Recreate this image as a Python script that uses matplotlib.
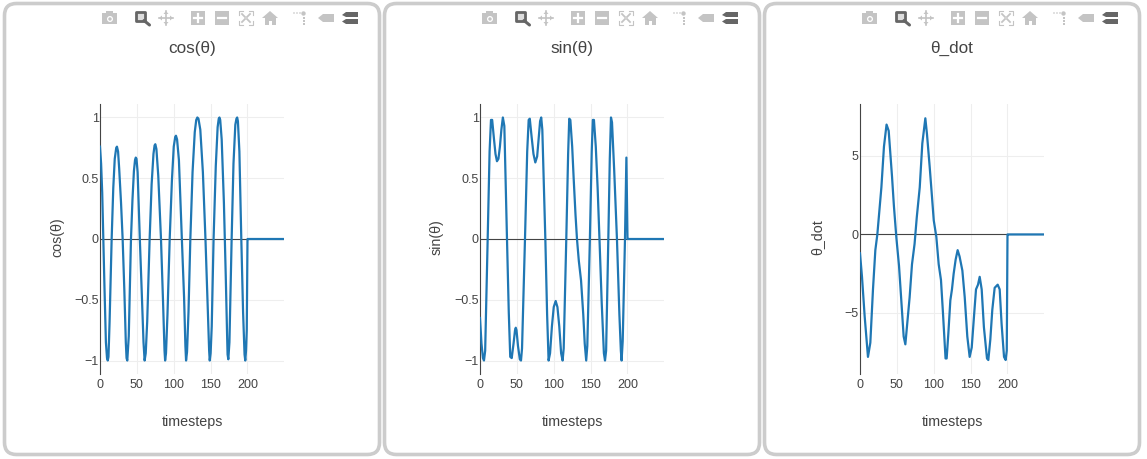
import matplotlib
matplotlib.use("Agg")
import matplotlib.pyplot as plt
from matplotlib.patches import FancyBboxPatch, Rectangle, Circle, Polygon

plt.rcParams['font.family'] = ['Liberation Sans', 'DejaVu Sans']

W, H = 1147, 459
TICKS_X = [0, 50, 100, 150, 200]

cos_x = [0, 1.5, 3, 4.5, 6, 8, 9.5, 10.5, 11.5, 13, 15.8, 18, 20, 22, 23, 24.5, 26, 28.5, 30.7, 33, 35, 36, 37, 39, 42,
         44, 46, 47.5, 48.5, 49.5, 51, 54, 56.5, 59, 60.5, 62, 64, 67.3, 70, 72.5, 74, 75, 76.5, 79, 82.7, 85.5, 87.5,
         88.3, 89.5, 91.5, 94.5, 97.5, 100, 102, 103, 104.5, 107, 111, 114, 115.8, 116.7, 118, 120, 122.5, 125.5, 128.5,
         130.5, 132, 133.5, 136, 139.5, 143, 146, 148, 148.8, 150, 151.5, 154, 157, 159.5, 161, 162, 163, 165, 168, 170.5,
         172.3, 173, 174, 175.5, 178.5, 181, 183.5, 185, 186, 187, 189, 191.6, 194, 196, 197, 198, 199, 200, 201, 225, 249.5]
cos_y = [0.76, 0.62, 0.38, 0.0, -0.38, -0.85, -0.98, -1.0, -0.97, -0.68, 0.0, 0.42, 0.66, 0.75, 0.76, 0.72, 0.58, 0.3, 0.0,
         -0.42, -0.85, -0.98, -1.0, -0.8, 0.0, 0.32, 0.56, 0.65, 0.67, 0.66, 0.55, 0.0, -0.42, -0.85, -1.0, -0.94, -0.68, 0.0,
         0.45, 0.7, 0.77, 0.78, 0.74, 0.52, 0.0, -0.52, -0.92, -1.0, -0.94, -0.62, 0.0, 0.48, 0.76, 0.84, 0.85, 0.82, 0.65, 0.0,
         -0.48, -0.88, -1.0, -0.93, -0.6, 0.0, 0.55, 0.88, 0.98, 1.0, 0.99, 0.9, 0.55, 0.0, -0.55, -0.92, -1.0, -0.94, -0.72, 0.0,
         0.6, 0.92, 0.99, 1.0, 0.98, 0.82, 0.3, -0.3, -0.78, -0.95, -0.99, -0.85, 0.0, 0.62, 0.94, 0.99, 1.0, 0.97, 0.72, 0.0,
         -0.6, -0.95, -1.0, -0.92, -0.75, 0.0, 0.0, 0.0, 0.0]

sin_x = [0, 2, 4, 5.4, 7, 10.4, 13, 14.9, 16.5, 19, 21, 23, 25, 27, 29, 31, 33, 36.6, 39, 41, 43, 45.5, 47.5, 48.5, 49.5, 51.5,
         54, 55.6, 57, 61, 64, 66, 67.5, 70, 72.5, 75, 77.5, 80, 81.5, 83, 84.5, 88.6, 91, 93, 95, 97.5, 100, 102.6, 105, 107.5,
         110, 112, 113.5, 117, 119.5, 121, 122.5, 125, 127, 129.5, 131.5, 134, 137, 140, 142, 144, 145.5, 149, 151.5, 153, 154.5,
         157, 159.5, 162, 165, 168, 169.5, 171, 174, 176, 177.6, 179, 182, 185.7, 189, 191, 192, 193.5, 196.6, 198.5, 200, 201, 225, 249.5]
sin_y = [-0.65, -0.86, -0.98, -1.0, -0.92, 0.0, 0.72, 0.98, 0.98, 0.82, 0.7, 0.64, 0.66, 0.76, 0.9, 1.0, 0.93, 0.0, -0.6, -0.97, -0.98,
         -0.86, -0.75, -0.73, -0.75, -0.88, -0.99, -1.0, -0.9, 0.0, 0.72, 0.98, 0.99, 0.84, 0.7, 0.63, 0.68, 0.86, 0.97, 1.0, 0.9, 0.0,
         -0.62, -1.0, -0.94, -0.72, -0.56, -0.51, -0.56, -0.72, -0.94, -1.0, -0.9, 0.0, 0.7, 0.99, 0.98, 0.76, 0.5, 0.2, 0.0, -0.18, -0.34,
         -0.62, -0.86, -1.0, -0.88, 0.0, 0.72, 0.98, 0.98, 0.76, 0.42, 0.0, -0.52, -0.94, -1.0, -0.92, 0.0, 0.66, 1.0, 0.96, 0.56, 0.0,
         -0.62, -0.92, -1.0, -0.84, 0.0, 0.67, 0.0, 0.0, 0.0, 0.0]

dot_x = [0, 2.7, 6.3, 10.8, 14, 17.6, 20.8, 23.5, 29, 32.5, 36, 38.9, 43.4, 46, 49.3, 52.9, 56, 59.2, 61.5, 64, 67.3, 70.5, 74, 77, 81,
         84.5, 88.6, 90.8, 94.5, 97.6, 100, 103.5, 106.7, 109.8, 112.5, 116, 117.5, 119.8, 122.5, 124.7, 127, 129.7, 132.4, 135, 138.8,
         142, 145.5, 148.7, 151.5, 154.6, 157.3, 160, 162.3, 165, 168, 172.2, 174, 176.7, 179.4, 182.6, 186.7, 189.4, 192, 195.3, 197.5,
         199, 200, 201, 225, 249.5]
dot_y = [-1.2, -2.7, -5.2, -7.8, -6.9, -3.5, -1.0, 0.0, 3.0, 5.6, 7.0, 6.6, 3.7, 1.8, -0.2, -2.0, -4.2, -6.5, -7.0, -5.7, -4.0, -1.9, -0.6,
         1.1, 3.0, 5.8, 7.4, 6.4, 4.3, 2.4, 0.9, -0.15, -1.9, -2.9, -5.0, -7.9, -7.9, -6.3, -4.2, -3.5, -2.5, -1.6, -1.0, -1.4, -2.3,
         -4.0, -6.5, -7.8, -7.2, -5.2, -3.5, -3.2, -2.7, -3.5, -5.9, -7.9, -8.0, -6.7, -4.8, -3.4, -3.2, -3.5, -5.7, -7.8, -8.0,
         -7.4, 0.0, 0.0, 0.0, 0.0]

panels = [
    dict(title="cos(θ)", ylabel="cos(θ)", x=cos_x, y=cos_y, yticks=[-1, -0.5, 0, 0.5, 1],
         ylabels=["−1", "−0.5", "0", "0.5", "1"], ylim=(-1.111, 1.111), left=3, axl=100),
    dict(title="sin(θ)", ylabel="sin(θ)", x=sin_x, y=sin_y, yticks=[-1, -0.5, 0, 0.5, 1],
         ylabels=["−1", "−0.5", "0", "0.5", "1"], ylim=(-1.111, 1.111), left=383, axl=480),
    dict(title="θ_dot", ylabel="θ_dot", x=dot_x, y=dot_y, yticks=[-5, 0, 5],
         ylabels=["−5", "0", "5"], ylim=(-8.89, 8.31), left=763, axl=860),
]

fig = plt.figure(figsize=(W / 100, H / 100), dpi=100, facecolor='white')
chrome = fig.add_axes([0, 0, 1, 1], zorder=0)
chrome.set_xlim(0, W)
chrome.set_ylim(H, 0)
chrome.axis('off')

ICON = '#c4c4c4'
DARK = '#666666'


def toolbar(ox):
    """Draw the row of modebar icons; ox is the panel's left edge in pixels."""
    c = chrome
    # camera
    c.add_patch(Rectangle((ox + 99, 13), 15, 11, fc=ICON, ec='none'))
    c.add_patch(Rectangle((ox + 103, 11), 7, 3, fc=ICON, ec='none'))
    c.add_patch(Circle((ox + 107, 19), 3, fc='white', ec='none'))
    c.add_patch(Circle((ox + 107, 19), 1.7, fc=ICON, ec='none'))
    # zoom (active)
    c.add_patch(Rectangle((ox + 132.5, 12), 9, 9, fc='#dddddd', ec=DARK, lw=2, joinstyle='round'))
    c.plot([ox + 141, ox + 146.5], [20.5, 25], color=DARK, lw=2.2, solid_capstyle='round')
    # pan
    c.plot([ox + 156, ox + 170], [18, 18], color=ICON, lw=1.2)
    c.plot([ox + 163, ox + 163], [11, 25], color=ICON, lw=1.2)
    for p in ([(156, 18), (159, 15.5), (159, 20.5)], [(170, 18), (167, 15.5), (167, 20.5)],
              [(163, 11), (160.5, 14), (165.5, 14)], [(163, 25), (160.5, 22), (165.5, 22)]):
        c.add_patch(Polygon([(ox + a, b) for a, b in p], fc=ICON, ec='none'))
    # plus
    c.add_patch(Rectangle((ox + 188, 11), 14, 14, fc=ICON, ec='none'))
    c.plot([ox + 191, ox + 199], [18, 18], color='white', lw=1.6)
    c.plot([ox + 195, ox + 195], [14, 22], color='white', lw=1.6)
    # minus
    c.add_patch(Rectangle((ox + 212, 11), 14, 14, fc=ICON, ec='none'))
    c.plot([ox + 215, ox + 223], [18, 18], color='white', lw=1.6)
    # autoscale
    for a, b, da, db in ((236, 11, 1, 1), (250, 11, -1, 1), (236, 25, 1, -1), (250, 25, -1, -1)):
        c.plot([ox + a + 4 * da, ox + a, ox + a], [b, b, b + 4 * db], color=ICON, lw=0.8)
        c.plot([ox + a + 3 * da, ox + a + 6 * da], [b + 3 * db, b + 6 * db], color=ICON, lw=1.3)
    # home
    c.add_patch(Polygon([(ox + 259, 18), (ox + 267, 11), (ox + 275, 18)], fc=ICON, ec='none'))
    c.add_patch(Rectangle((ox + 261.5, 18), 11, 7, fc=ICON, ec='none'))
    c.add_patch(Rectangle((ox + 265.5, 21), 3, 4, fc='white', ec='none'))
    # spike lines
    for a in (291, 294, 297):
        c.add_patch(Circle((ox + a, 13), 0.8, fc=ICON, ec='none'))
    c.add_patch(Circle((ox + 300.5, 13.5), 2.2, fc=ICON, ec='none'))
    for b in (17, 20, 23):
        c.add_patch(Rectangle((ox + 299.5, b), 2, 2, fc=ICON, ec='none'))
    # closest-point hover tag
    c.add_patch(Polygon([(ox + 315, 18), (ox + 320, 14), (ox + 331, 14), (ox + 331, 22), (ox + 320, 22)], fc=ICON, ec='none'))
    # compare hover tags
    c.add_patch(Polygon([(ox + 339, 15), (ox + 343, 12), (ox + 355, 12), (ox + 355, 17), (ox + 343, 17)], fc=DARK, ec='none'))
    c.add_patch(Polygon([(ox + 339, 21.5), (ox + 343, 19), (ox + 355, 19), (ox + 355, 24), (ox + 343, 24)], fc=DARK, ec='none'))


for p in panels:
    chrome.add_patch(FancyBboxPatch((p['left'] + 1.5, 3.5), 375, 451,
                                    boxstyle="round,pad=0,rounding_size=12",
                                    fc='white', ec='#cccccc', lw=2.6))
    toolbar(p['left'])

    ax = fig.add_axes([p['axl'] / W, 1 - 374 / H, 184 / W, 270 / H], zorder=2)
    ax.patch.set_alpha(0)
    ax.grid(True, color='#eeeeee', lw=0.8, zorder=0)
    ax.set_axisbelow(True)
    ax.axhline(0, color='#444444', lw=0.8, zorder=1.5)
    ax.plot(p['x'], p['y'], color='#1f77b4', lw=1.6, zorder=3, solid_joinstyle='round')
    ax.set_xlim(0, 249.5)
    ax.set_ylim(*p['ylim'])
    ax.set_xticks(TICKS_X)
    ax.set_yticks(p['yticks'], labels=p['ylabels'])
    ax.tick_params(length=0, labelsize=9.0, labelcolor='#444444')
    ax.tick_params(axis='x', pad=3.5)
    ax.tick_params(axis='y', pad=1)
    for s in ('top', 'right', 'bottom'):
        ax.spines[s].set_visible(False)
    ax.spines['left'].set_color('#444444')
    ax.spines['left'].set_linewidth(0.8)
    ax.set_xlabel("timesteps", fontsize=10.3, color='#444444')
    ax.xaxis.set_label_coords(0.5, -0.178)
    ax.xaxis.label.set_va('center')
    ax.set_ylabel(p['ylabel'], fontsize=10.3, color='#444444')
    ax.yaxis.set_label_coords(-0.234, 0.507)
    ax.yaxis.label.set_va('center')
    ax.set_title(p['title'], fontsize=12.3, color='#444444', y=1.207, va='center', pad=0)

fig.savefig('out.png', dpi=100, facecolor='white')
